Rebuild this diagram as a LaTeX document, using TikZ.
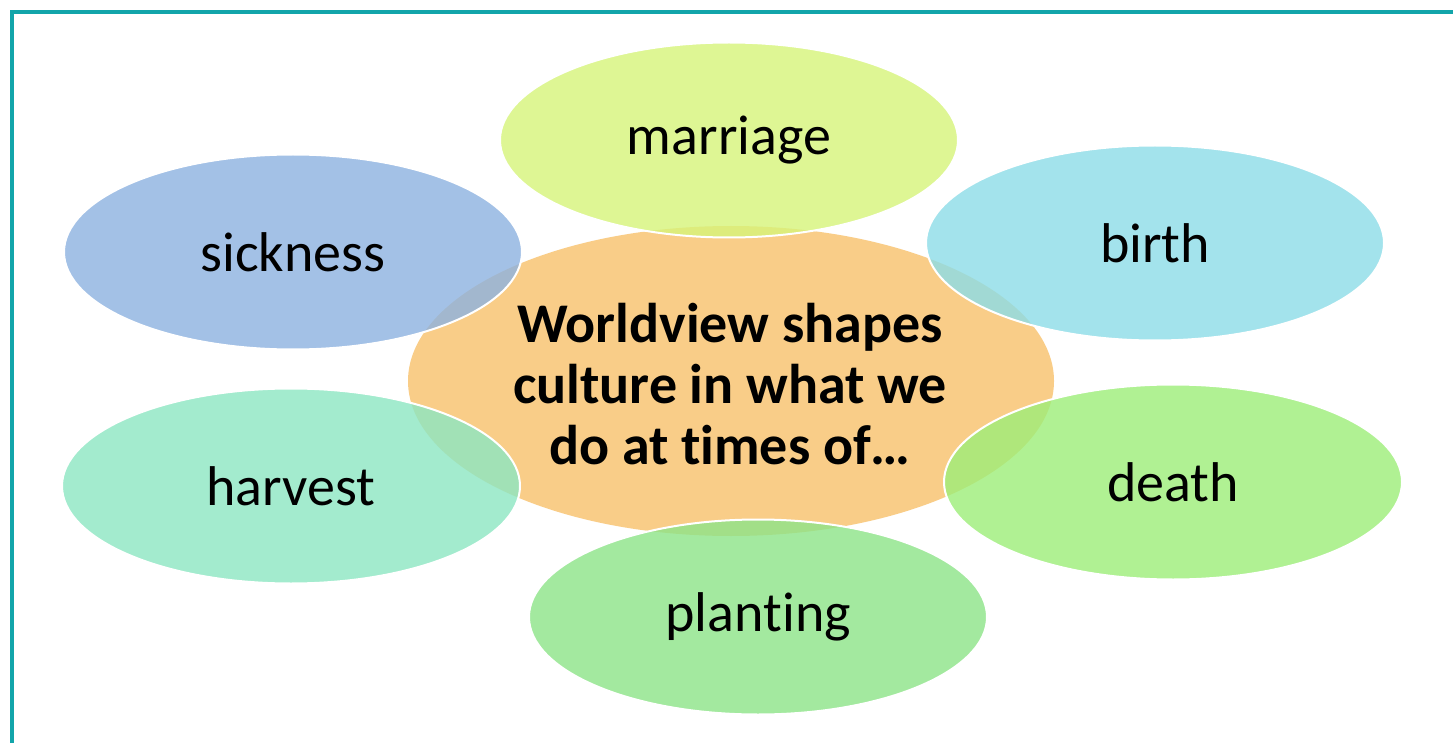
\documentclass[tikz,border=0pt]{standalone}
\usepackage{fontspec}
\setmainfont[Ligatures={NoCommon,NoContextual}]{Carlito}
\usetikzlibrary{shapes.geometric}
\definecolor{frame}{HTML}{12A5AA}
\definecolor{corec}{HTML}{F9CD88}
\definecolor{cmarriage}{HTML}{D6F47A}
\definecolor{csickness}{HTML}{8DB2E0}
\definecolor{cbirth}{HTML}{8CDDE8}
\definecolor{charvest}{HTML}{8CE6C2}
\definecolor{cdeath}{HTML}{9DEE78}
\definecolor{cplanting}{HTML}{8DE488}
\tikzset{
  petal/.style={ellipse, draw=white, line width=2pt, fill opacity=0.8, text opacity=1,
    minimum width=458pt, minimum height=195pt, inner sep=0pt,
    font=\fontsize{56}{62}\selectfont, text=black},
  core/.style={ellipse, fill=corec, minimum width=646pt, minimum height=310pt, inner sep=0pt},
  coretext/.style={font=\fontsize{56}{61}\selectfont\bfseries, align=center, text=black},
}
\begin{document}
\begin{tikzpicture}[x=1pt,y=-1pt]
\useasboundingbox (0,0) rectangle (1453,743);
\fill[white] (0,0) rectangle (1453,743);
\draw[frame, line width=4pt] (11.5,743) -- (11.5,12.5) -- (1453,12.5);
\node[core] (core) at (731,381) {};
\node[petal, fill=cmarriage] (marriage) at (729,140) {marriage};
\node[petal, fill=csickness] (sickness) at (293,252) {sickness};
\node[petal, fill=cbirth] (birth) at (1155,243) {birth};
\node[petal, fill=charvest] (harvest) at (291,486) {harvest};
\node[petal, fill=cdeath] (death) at (1173,482) {death};
\node[petal, fill=cplanting] (planting) at (758,617) {plan\kern0pt ting};
\node[coretext] (label) at (730,384)
  {Worldview shapes\\culture in what we\\do at \kern0pt t\kern0pt imes of\dots};
\end{tikzpicture}
\end{document}
